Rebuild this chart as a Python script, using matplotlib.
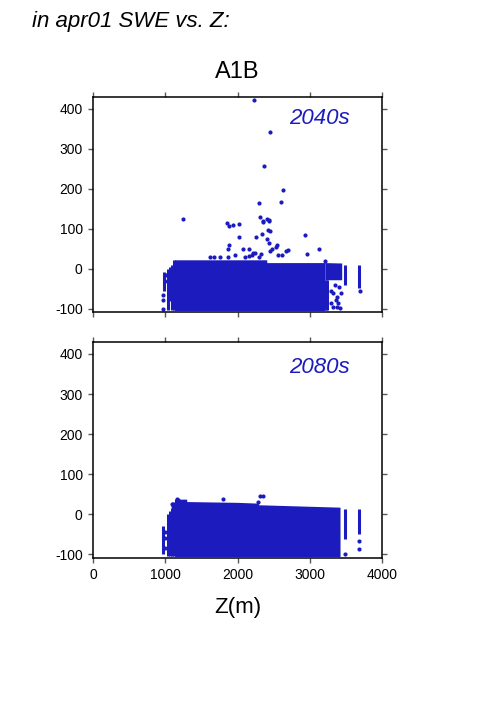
import matplotlib
matplotlib.use('Agg')
import matplotlib.pyplot as plt
import numpy as np

plt.rcParams['font.family'] = ['Liberation Sans', 'DejaVu Sans']
plt.rcParams['axes.unicode_minus'] = False

BLUE = '#1c1cbe'

# ---- panel 1 (2040s) ----
# dense core of the cloud: elevation, lower and upper edge (SWE change)
core1_z = [1125, 2405, 2406, 3213]
core1_lo = [-105, -105, -105, -105]
core1_hi = [22, 22, 15, 15]
# right part of the cloud that thins out below
edge1_z = [3213, 3445]
edge1_lo = [-28, -28]
edge1_hi = [15, 14]
# vertical streaks of points (elevation, low, high)
col1_z = [975, 1030, 1065, 1095, 1115, 3225, 3245, 3491, 3690]
col1_lo = [-55, -104, -80, -104, -104, -104, -104, -41, -49]
col1_hi = [-8, 0, 5, 10, 22, -28, -28, 9, 9]
# single points
pt1_z = [2230, 2457, 2369, 2630, 2597, 2295, 1245, 2318, 2355, 2416, 2440,
         1850, 1887, 1942, 2021, 2358, 2442, 2428, 2451, 2025, 2340, 2252,
         2405, 2441, 2552, 2534, 1887, 1873, 2081, 2159, 2474, 2451, 2705,
         2672, 2936, 2959, 2612, 2557, 3125, 3220, 2215, 2240, 2200, 2160,
         2330, 2300, 1620, 1680, 1760, 1873, 1960, 2100, 3294, 3698,
         970, 972, 968, 1000, 1005, 3330, 3376, 3360, 3400, 3380, 3422,
         3320, 3410, 3300, 3350, 3430]
pt1_v = [422, 343, 257, 198, 166, 165, 124, 128, 116, 124, 121,
         114, 107, 110, 112, 118, 120, 97, 93, 78, 87, 80,
         73, 63, 59, 55, 59, 48, 48, 48, 48, 45, 47,
         43, 84, 36, 34, 34, 48, 20, 40, 38, 33, 31,
         36, 30, 28, 30, 29, 30, 33, 29, -57, -56,
         -78, -100, -65, -30, -15, -62, -70, -78, -87, -95, -98,
         -97, -45, -85, -40, -60]

# ---- panel 2 (2080s) ----
core2_z = [1125, 1295, 1296, 2000, 2289, 2290, 3422]
core2_lo = [-105, -105, -105, -105, -105, -105, -105]
core2_hi = [38, 38, 32, 30, 28, 24, 18]
col2_z = [968, 1030, 1060, 1090, 1112, 3491, 3690]
col2_lo = [-99, -104, -104, -104, -104, -61, -50]
col2_hi = [-28, 0, 9, 17, 30, 13, 13]
pt2_z = [2312, 2353, 2289, 1794, 1165, 1180, 3491, 3690, 3690, 1090, 1100,
         995, 1000, 990]
pt2_v = [46, 46, 31, 38, 38, 35, -99, -67, -86, 27, 20,
         -45, -60, -85]

fig = plt.figure(figsize=(5.01, 7.09), dpi=100)
ax1 = fig.add_axes([93.3 / 501, 1 - 311.7 / 709, 288.4 / 501, 214.4 / 709])
ax2 = fig.add_axes([93.3 / 501, 1 - 557.7 / 709, 288.4 / 501, 215.4 / 709])


def style(ax, labels_bottom):
    ax.set_xlim(0, 4000)
    ax.set_ylim(-108, 429)
    ax.set_xticks([0, 1000, 2000, 3000, 4000])
    ax.set_yticks([-100, 0, 100, 200, 300, 400])
    ax.tick_params(direction='out', length=3.6, width=1, color='0.35',
                   top=True, right=True, labelsize=10, pad=4,
                   labelbottom=labels_bottom)
    for s in ax.spines.values():
        s.set_linewidth(1.1)


ax1.fill_between(core1_z, core1_lo, core1_hi, color=BLUE, lw=0)
ax1.fill_between(edge1_z, edge1_lo, edge1_hi, color=BLUE, lw=0)
ax1.vlines(col1_z, col1_lo, col1_hi, color=BLUE, lw=2.2)
ax1.scatter(pt1_z, pt1_v, s=9, color=BLUE, lw=0)
ax1.text(3551, 375, '2040s', color=BLUE, style='italic', fontsize=16,
         ha='right', va='center')
style(ax1, False)

ax2.fill_between(core2_z, core2_lo, core2_hi, color=BLUE, lw=0)
ax2.vlines(col2_z, col2_lo, col2_hi, color=BLUE, lw=2.2)
ax2.scatter(pt2_z, pt2_v, s=9, color=BLUE, lw=0)
ax2.text(3551, 366, '2080s', color=BLUE, style='italic', fontsize=16,
         ha='right', va='center')
style(ax2, True)

fig.text(230 / 501, 1 - 27.5 / 709, 'in apr01 SWE vs. Z:', style='italic',
         fontsize=16, ha='right', va='baseline')
fig.text(237.5 / 501, 1 - 72 / 709, 'A1B', fontsize=17, ha='center',
         va='center')
fig.text(237.5 / 501, 1 - 607 / 709, 'Z(m)', fontsize=16, ha='center',
         va='center')

fig.savefig('out.png', dpi=100)
